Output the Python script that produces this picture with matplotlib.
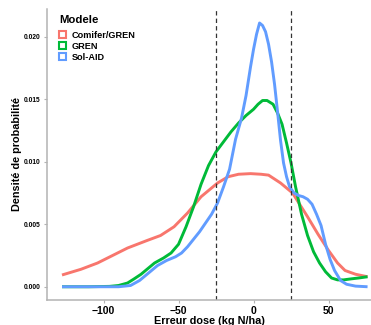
import matplotlib
matplotlib.use("Agg")
import matplotlib.pyplot as plt
from matplotlib.patches import Patch

plt.rcParams['font.family'] = ['Liberation Sans', 'DejaVu Sans']

# density curves (x = error in kg N/ha)
red_x = [-127.7, -115, -104, -94, -84, -71, -62, -53, -44, -35, -24, -17, -10, -2,
         5, 10, 18, 26, 36, 43, 50, 56, 61, 68, 76]
red_y = [0.00094, 0.0014, 0.0019, 0.0025, 0.0031, 0.0037, 0.0041, 0.0048, 0.0059,
         0.0072, 0.0083, 0.0088, 0.0090, 0.00905, 0.0090, 0.00893, 0.0083, 0.0075,
         0.0056, 0.0042, 0.0029, 0.0019, 0.0013, 0.0010, 0.0008]

green_x = [-127.7, -110, -96, -90, -84, -80, -75, -70, -66, -60, -55, -50, -45, -40,
           -35, -30, -25, -20, -15, -10, -5, 0, 3, 6, 9, 13, 16, 19, 22, 25, 28, 32,
           36, 40, 44, 48, 52, 56, 60, 65, 70, 76]
green_y = [0.0, 0.0, 0.00003, 0.0001, 0.0003, 0.0006, 0.0010, 0.0015, 0.0019, 0.0023,
           0.0027, 0.0034, 0.0048, 0.0064, 0.0082, 0.0097, 0.0108, 0.0116, 0.0124,
           0.0131, 0.0137, 0.0142, 0.0146, 0.0149, 0.0149, 0.0146, 0.0139, 0.0130,
           0.0115, 0.0099, 0.0080, 0.0058, 0.0041, 0.0028, 0.0019, 0.0012, 0.0007,
           0.00055, 0.00055, 0.00063, 0.0007, 0.0008]

blue_x = [-127.7, -100, -90, -82, -76, -70, -64, -58, -52, -48, -44, -40, -36, -32,
          -28, -24, -20, -16, -12, -8, -5, -2, 0, 2, 4, 6, 8, 10, 12, 14, 16, 18, 20,
          22, 24, 27, 30, 33, 36, 39, 42, 45, 48, 51, 54, 58, 62, 68, 76]
blue_y = [0.0, 0.0, 0.0, 0.0001, 0.0005, 0.0011, 0.0017, 0.0021, 0.0024, 0.0027,
          0.0032, 0.0038, 0.0044, 0.0051, 0.0058, 0.0067, 0.0080, 0.0094, 0.0118,
          0.0135, 0.0153, 0.0176, 0.0190, 0.0202, 0.0211, 0.0209, 0.0204, 0.0194,
          0.0180, 0.0162, 0.0140, 0.0117, 0.0099, 0.0088, 0.0080, 0.0075, 0.0073,
          0.0072, 0.0070, 0.0066, 0.0058, 0.0049, 0.0034, 0.0022, 0.0013, 0.0005,
          0.0002, 0.00005, 0.0]

modeles = ['Comifer/GREN', 'GREN', 'Sol-AID']
colors = ['#F8766D', '#00BA38', '#619CFF']
seuils = [-25, 25]

fig = plt.figure(figsize=(3.71, 3.25), dpi=100)
ax = fig.add_axes([47 / 371, 25 / 325, 324 / 371, 291.5 / 325])

curves = [(red_x, red_y), (green_x, green_y), (blue_x, blue_y)]
for (x, y), c in zip(curves, colors):
    ax.plot(x, y, color=c, lw=2.1, solid_capstyle='butt')

for s in seuils:
    ax.axvline(s, color='#333333', lw=0.9, ls=(0, (3.5, 2.5)))

ax.set_xlim(-137.7, 78.3)
ax.set_ylim(-0.00106, 0.02226)
ax.set_xticks([-100, -50, 0, 50])
ax.set_yticks([0, 0.005, 0.010, 0.015, 0.020])
ax.set_yticklabels(['0.000', '0.005', '0.010', '0.015', '0.020'])

for side in ['top', 'right']:
    ax.spines[side].set_visible(False)
for side in ['left', 'bottom']:
    ax.spines[side].set_color('#b3b3b3')
    ax.spines[side].set_linewidth(1.1)
ax.tick_params(axis='both', color='#b3b3b3', length=2.5, width=0.8, pad=2)
ax.tick_params(axis='x', labelsize=7.5)
ax.tick_params(axis='y', labelsize=4.8)
for lab in ax.get_xticklabels() + ax.get_yticklabels():
    lab.set_fontweight('bold')
    lab.set_color('black')

ax.set_xlabel('Erreur dose (kg N/ha)', fontsize=7.8, fontweight='bold', labelpad=0)
ax.set_ylabel('Densité de probabilité', fontsize=7.8, fontweight='bold', labelpad=1)

handles = [Patch(facecolor='white', edgecolor=c, lw=1.5, label=m)
           for m, c in zip(modeles, colors)]
leg = ax.legend(handles=handles, title='Modele', loc='upper left',
                bbox_to_anchor=(0.02, 0.995), frameon=False,
                prop={'size': 6.6, 'weight': 'bold'},
                handlelength=0.8, handleheight=0.8, handletextpad=0.6,
                labelspacing=0.2, borderaxespad=0.2)
leg.get_title().set_fontsize(8.2)
leg.get_title().set_fontweight('bold')
leg._legend_box.align = 'left'
leg._legend_box.sep = 4

fig.savefig('out.png', dpi=100)
